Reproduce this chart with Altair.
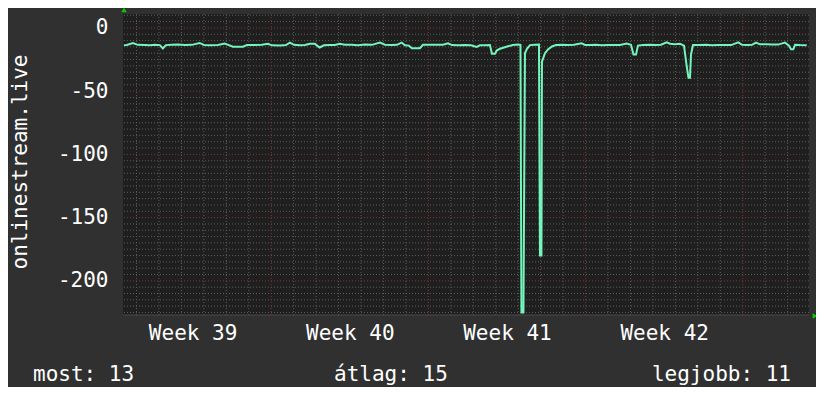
import altair as alt
import pandas as pd

# Time in days relative to the start of Week 40 (read from pixel positions)
px = [124, 127, 133, 138, 145, 150, 155, 160, 163, 166, 172, 178, 185, 192, 199.7, 204, 210, 218, 224.7, 229,
      233, 238, 243, 247, 255, 262, 268, 272, 280, 286, 290, 294, 300, 305, 310, 315, 319.7, 324, 330, 335,
      339.7, 345, 352, 358, 365, 372, 380, 385, 392, 397, 401.7, 405, 409, 412, 416, 420, 423, 430, 437, 443,
      448, 452, 458, 465, 471, 476.7, 480, 485, 490, 492, 495, 497, 500, 504, 508, 513, 518, 520.5, 521.5, 523.5,
      525, 527, 530, 535, 539, 540, 541.5, 542, 545, 548, 552, 556, 562, 568, 574, 581.7, 585, 590, 596, 602,
      608, 614, 620, 626.7, 631, 633.5, 636, 638, 643, 650, 656, 661, 666.7, 670, 675, 680, 684, 686.5, 688.5, 690,
      691, 693, 700, 706, 712, 718, 724, 731, 738.3, 742, 748, 752, 756, 760, 766, 772, 778, 785, 789, 791,
      793.3, 795, 800, 806.7]
values = [-13.7, -13.5, -11.9, -13.4, -13.5, -13.8, -13.3, -13.6, -16.3, -13.6, -13.4, -13.2, -13.6, -13.4, -11.9, -13.5, -13.7, -13.5, -12.4, -13.6,
          -14.8, -14.8, -14.8, -13.5, -13.6, -13.3, -12.5, -13.8, -13.9, -13.6, -11.6, -13.4, -13.8, -13.5, -12.5, -12.6, -15.5, -13.8, -13.6, -13.5,
          -12.5, -13.3, -13.4, -13.7, -13.2, -13.4, -11.6, -13.3, -13.5, -13.4, -11.6, -13.8, -14.0, -16.0, -16.0, -16.0, -13.4, -13.3, -13.4, -13.3,
          -12.2, -13.6, -13.8, -13.6, -13.7, -15.0, -13.8, -13.7, -13.6, -20.5, -20.5, -17.7, -16.5, -15.5, -14.5, -13.5, -13.2, -13.4, -225, -225,
          -20.0, -16.5, -13.6, -13.4, -13.2, -180, -180, -26.6, -20.0, -17.0, -14.7, -13.6, -13.4, -13.6, -13.3, -12.2, -13.5, -13.6, -13.4, -13.7,
          -13.5, -13.5, -13.5, -12.4, -13.4, -21.1, -21.1, -14.0, -13.5, -13.4, -13.6, -13.3, -11.4, -12.5, -13.0, -12.6, -14.0, -29.0, -39.5, -39.5,
          -21.0, -13.5, -13.6, -13.4, -13.7, -13.6, -13.5, -13.6, -11.4, -13.4, -13.5, -13.4, -11.6, -13.0, -12.9, -13.2, -13.2, -11.6, -14.0, -16.9,
          -16.9, -13.4, -13.6, -13.7]
days = [round((p - 271.3) / 22.45, 4) for p in px]

week_centers = [-3.5, 3.5, 10.5, 17.5]
week_labels = ["Week 39", "Week 40", "Week 41", "Week 42"]
y_ticks = [0, -50, -100, -150, -200]
legend_texts = ["most: 13", "átlag: 15", "legjobb: 11"]
y_title = "onlinestream.live"

X_DOM = [-6.6, 23.95]
Y_DOM = [-227, 11]
W, H = 686, 301
FONT = "DejaVu Sans Mono"

xs = alt.Scale(domain=X_DOM, nice=False, zero=False)
ys = alt.Scale(domain=Y_DOM, nice=False, zero=False)

label_expr = " : ".join(
    f"datum.value == {c} ? '{l}'" for c, l in zip(week_centers[:-1], week_labels[:-1])) + f" : '{week_labels[-1]}'"

X_AX = alt.Axis(values=week_centers, labelExpr=label_expr, title=None, grid=False,
                ticks=False, domain=False, labelFont=FONT, labelFontSize=21,
                labelColor="#ffffff", labelPadding=7, labelFlush=False)
Y_AX = alt.Axis(values=y_ticks, labelExpr="'' + datum.value", title=None, grid=False, ticks=False,
                domain=False, labelFont=FONT, labelFontSize=21, labelColor="#ffffff",
                labelPadding=15, labelBaseline="middle")

df = pd.DataFrame({"day": days, "value": values})

minor_x = pd.DataFrame({"day": [d for d in range(-6, 24) if d % 7 != 0]})
major_x = pd.DataFrame({"day": [d for d in range(-6, 24) if d % 7 == 0]})
minor_y = pd.DataFrame({"value": [v for v in range(10, -227, -5) if v % 50 != 0]})
major_y = pd.DataFrame({"value": [v for v in range(0, -227, -50)]})

grid_minor_col = "#5c5c5c"
grid_major_col = "#7e3636"

gx_minor = alt.Chart(minor_x).mark_rule(color=grid_minor_col, strokeDash=[1, 2], strokeWidth=1).encode(
    x=alt.X("day:Q", scale=xs, axis=X_AX))
gx_major = alt.Chart(major_x).mark_rule(color=grid_major_col, strokeDash=[1, 2], strokeWidth=1).encode(
    x=alt.X("day:Q", scale=xs, axis=X_AX))
gy_minor = alt.Chart(minor_y).mark_rule(color=grid_minor_col, strokeDash=[1, 2], strokeWidth=1).encode(
    y=alt.Y("value:Q", scale=ys, axis=Y_AX))
gy_major = alt.Chart(major_y).mark_rule(color=grid_major_col, strokeDash=[1, 2], strokeWidth=1).encode(
    y=alt.Y("value:Q", scale=ys, axis=Y_AX))

bottom_line = alt.Chart(pd.DataFrame({"value": [Y_DOM[0]]})).mark_rule(color="#4a4a4a", strokeWidth=1).encode(
    y=alt.Y("value:Q", scale=ys, axis=Y_AX))

line = alt.Chart(df).mark_line(color="#74f5bc", strokeWidth=2, interpolate="linear").encode(
    x=alt.X("day:Q", scale=xs, axis=X_AX),
    y=alt.Y("value:Q", scale=ys, axis=Y_AX),
)

ytitle = alt.Chart(pd.DataFrame({"t": [y_title]})).mark_text(
    font=FONT, fontSize=21, color="#ffffff", angle=270, align="center", baseline="middle").encode(
    text="t:N", x=alt.value(-102), y=alt.value(148))

def legend_text(t, x, align):
    return alt.Chart(pd.DataFrame({"t": [t]})).mark_text(
        font=FONT, fontSize=21, color="#ffffff", align=align, baseline="middle").encode(
        text="t:N", x=alt.value(x), y=alt.value(361))

leg1 = legend_text(legend_texts[0], -90, "left")
leg2 = legend_text(legend_texts[1], 211, "left")
leg3 = legend_text(legend_texts[2], 668, "right")

arrow_up = alt.Chart(pd.DataFrame({"a": [1]})).mark_point(
    shape="triangle-up", filled=True, color="#00d000", size=30, opacity=1).encode(
    x=alt.value(1), y=alt.value(-4))
arrow_right = alt.Chart(pd.DataFrame({"a": [1]})).mark_point(
    shape="triangle-right", filled=True, color="#00d000", size=30, opacity=1).encode(
    x=alt.value(692), y=alt.value(302))

chart = alt.layer(gx_minor, gy_minor, gx_major, gy_major, bottom_line, line, ytitle, leg1, leg2, leg3,
                  arrow_up, arrow_right).properties(
    width=W, height=H,
    autosize=alt.AutoSizeParams(type="none"),
    padding={"left": 115, "top": 6, "right": 7, "bottom": 72},
    background="#303030",
).configure_view(fill="#1f1f1f", stroke=None)

chart.save("out.html", embed_options={"renderer": "svg", "actions": False})
